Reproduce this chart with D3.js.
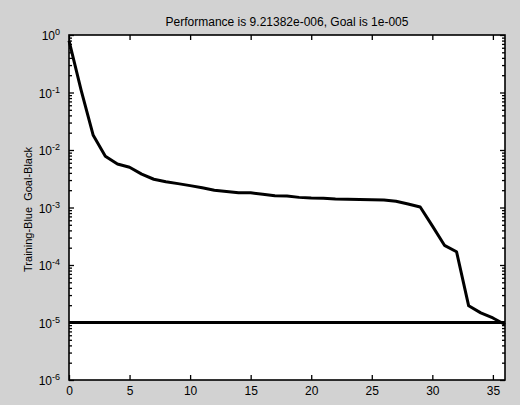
<!DOCTYPE html>
<html>
<head>
<meta charset="utf-8">
<script src="https://cdn.jsdelivr.net/npm/d3@7"></script>
<style>
  body { margin: 0; background: #d2d2d2; }
  svg { display: block; font-family: "Liberation Sans", Arial, sans-serif; }
</style>
</head>
<body>
<script>
// DATA
const epochs = [0, 1, 2, 3, 4, 5, 6, 7, 8, 9, 10, 11, 12, 13, 14, 15, 16, 17, 18,
  19, 20, 21, 22, 23, 24, 25, 26, 27, 28, 29, 30, 31, 32, 33, 34, 35, 36];
const performance = [0.8, 0.11, 0.018, 0.0078, 0.0057, 0.005, 0.0038, 0.0031, 0.0028,
  0.0026, 0.0024, 0.0022, 0.002, 0.0019, 0.0018, 0.0018, 0.0017, 0.0016, 0.00158,
  0.0015, 0.00146, 0.00145, 0.0014, 0.00139, 0.00138, 0.00137, 0.00135, 0.00128,
  0.00115, 0.00102, 0.00048, 0.00022, 0.00017, 0.0000195, 0.0000147, 0.000012,
  0.00000921382];
const goal = 1e-5;
const xTicks = [0, 5, 10, 15, 20, 25, 30, 35];
const yExponents = [0, -1, -2, -3, -4, -5, -6];
const titleText = "Performance is 9.21382e-006, Goal is 1e-005";
const yLabelText = "Training-Blue\u00a0 Goal-Black";

// LAYOUT
const width = 520;
const height = 405;
const plotLeft = 69, plotRight = 505, plotTop = 35, plotBottom = 380;

const svg = d3.select("body").append("svg")
  .attr("width", width)
  .attr("height", height);

svg.append("rect")
  .attr("width", width).attr("height", height)
  .attr("fill", "#d2d2d2");

// SCALES
const xScale = d3.scaleLinear().domain([0, 36]).range([plotLeft, plotRight]);
const yScale = d3.scaleLog().domain([1e-6, 1]).range([plotBottom, plotTop]);

// plot area
svg.append("rect")
  .attr("x", plotLeft).attr("y", plotTop)
  .attr("width", plotRight - plotLeft).attr("height", plotBottom - plotTop)
  .attr("fill", "#fff");

// minor log ticks
const minorTicks = [];
yExponents.slice(0, -1).forEach((e) => {
  for (let m = 2; m <= 9; m++) minorTicks.push(m * Math.pow(10, e - 1));
});

const styleAxis = (g) => {
  g.select(".domain").remove();
  g.selectAll("line").attr("stroke", "#000").attr("stroke-width", 1.3);
  g.selectAll("text").attr("fill", "#000").attr("font-size", 12);
};

// AXES
svg.append("g")
  .attr("transform", `translate(0,${plotBottom})`)
  .call(d3.axisBottom(xScale).tickValues(xTicks).tickSize(-5).tickPadding(6))
  .call(styleAxis);

svg.append("g")
  .attr("transform", `translate(0,${plotTop})`)
  .call(d3.axisTop(xScale).tickValues(xTicks).tickSize(-5).tickFormat(""))
  .call(styleAxis);

const yAxisLeft = svg.append("g")
  .attr("transform", `translate(${plotLeft},0)`)
  .call(d3.axisLeft(yScale).tickValues(yExponents.map((e) => Math.pow(10, e)))
    .tickSize(-5).tickPadding(9).tickFormat(""))
  .call(styleAxis);

yAxisLeft.selectAll(".tick text")
  .attr("dy", "0.4em")
  .each(function (d) {
    const t = d3.select(this);
    t.append("tspan").text("10");
    t.append("tspan")
      .attr("dy", "-0.55em")
      .attr("font-size", 9)
      .text(Math.round(Math.log10(d)));
  });

svg.append("g")
  .attr("transform", `translate(${plotLeft},0)`)
  .call(d3.axisLeft(yScale).tickValues(minorTicks).tickSize(-3).tickFormat(""))
  .call(styleAxis);

svg.append("g")
  .attr("transform", `translate(${plotRight},0)`)
  .call(d3.axisRight(yScale).tickValues(yExponents.map((e) => Math.pow(10, e)))
    .tickSize(-5).tickFormat(""))
  .call(styleAxis);

svg.append("g")
  .attr("transform", `translate(${plotRight},0)`)
  .call(d3.axisRight(yScale).tickValues(minorTicks).tickSize(-3).tickFormat(""))
  .call(styleAxis);

// frame
svg.append("rect")
  .attr("x", plotLeft).attr("y", plotTop)
  .attr("width", plotRight - plotLeft).attr("height", plotBottom - plotTop)
  .attr("fill", "none")
  .attr("stroke", "#000")
  .attr("stroke-width", 1.6);

// GOAL LINE
svg.append("line")
  .attr("x1", xScale(0)).attr("x2", xScale(36))
  .attr("y1", yScale(goal)).attr("y2", yScale(goal))
  .attr("stroke", "#000")
  .attr("stroke-width", 3);

// PERFORMANCE CURVE
const line = d3.line()
  .x((d, i) => xScale(epochs[i]))
  .y((d) => yScale(d));

svg.append("path")
  .datum(performance)
  .attr("d", line)
  .attr("fill", "none")
  .attr("stroke", "#000")
  .attr("stroke-width", 3)
  .attr("stroke-linejoin", "round");

// TITLE + LABEL
svg.append("text")
  .attr("x", (plotLeft + plotRight) / 2)
  .attr("y", 26)
  .attr("text-anchor", "middle")
  .attr("font-size", 12)
  .text(titleText);

svg.append("text")
  .attr("transform", `translate(32,${(plotTop + plotBottom) / 2 + 2}) rotate(-90)`)
  .attr("text-anchor", "middle")
  .attr("font-size", 11)
  .text(yLabelText);
</script>
</body>
</html>
